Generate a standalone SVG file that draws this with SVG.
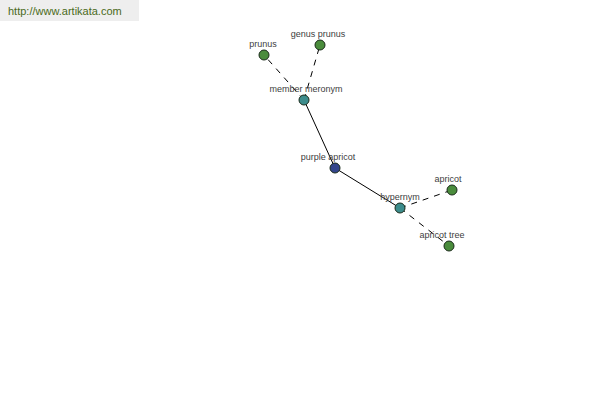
<svg xmlns="http://www.w3.org/2000/svg" width="600" height="400" viewBox="0 0 600 400">
<style>
text{font-family:"Liberation Sans",Arial,sans-serif;}
.lbl{font-size:9px;fill:#404040;text-anchor:middle;}
.n{stroke:#1a2a1a;stroke-width:1;}
.g{fill:#4a8c3c;}
.t{fill:#3c8c8c;}
.b{fill:#34468c;}
.solid{stroke:#000;stroke-width:1;fill:none;}
.dash{stroke:#000;stroke-width:1;fill:none;stroke-dasharray:6,6;}
</style>
<rect x="0" y="0" width="139" height="21" fill="#eeeeee"/>
<text x="8" y="15" font-size="11" fill="#4a6a1a">http://www.artikata.com</text>
<g id="connectors">
<line class="solid" x1="304" y1="100" x2="335" y2="168"/>
<line class="solid" x1="335" y1="168" x2="400" y2="208"/>
<line class="dash" x1="304" y1="100" x2="264" y2="55"/>
<line class="dash" x1="304" y1="100" x2="320" y2="45"/>
<line class="dash" x1="400" y1="208" x2="452" y2="190"/>
<line class="dash" x1="400" y1="208" x2="449" y2="246"/>
</g>
<g id="prunus"><circle class="n g" cx="264" cy="55" r="5"/><text class="lbl" x="263" y="47">prunus</text></g>
<g id="genus-prunus"><circle class="n g" cx="320" cy="45" r="5"/><text class="lbl" x="318" y="37">genus prunus</text></g>
<g id="member-meronym"><circle class="n t" cx="304" cy="100" r="5"/><text class="lbl" x="306" y="92">member meronym</text></g>
<g id="purple-apricot"><circle class="n b" cx="335" cy="168" r="5"/><text class="lbl" x="328" y="160">purple apricot</text></g>
<g id="hypernym"><circle class="n t" cx="400" cy="208" r="5"/><text class="lbl" x="400" y="200">hypernym</text></g>
<g id="apricot"><circle class="n g" cx="452" cy="190" r="5"/><text class="lbl" x="448" y="182">apricot</text></g>
<g id="apricot-tree"><circle class="n g" cx="449" cy="246" r="5"/><text class="lbl" x="442" y="238">apricot tree</text></g>
</svg>
